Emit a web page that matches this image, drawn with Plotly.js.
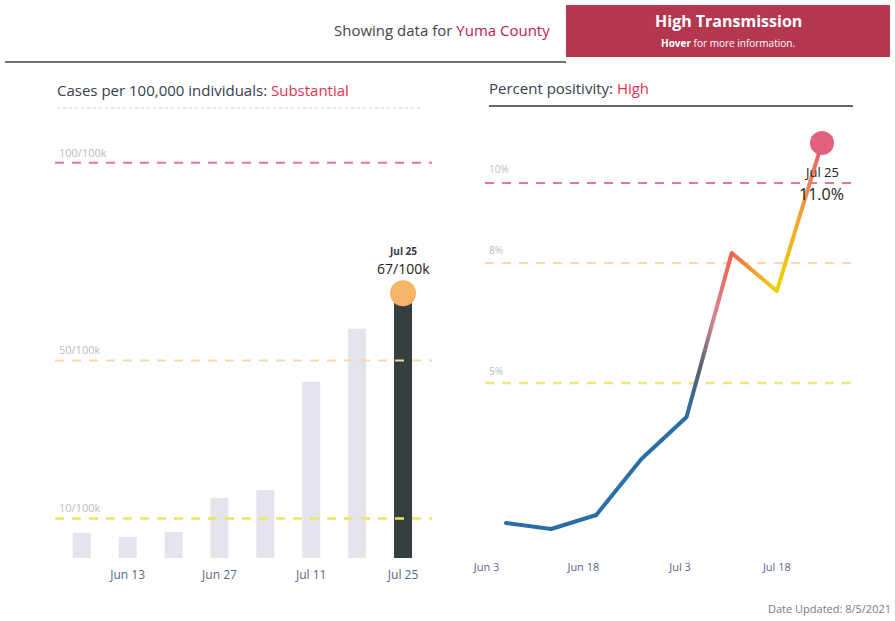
<!DOCTYPE html>
<html>
<head>
<meta charset="utf-8">
<script src="https://cdn.plot.ly/plotly-3.0.1.min.js"></script>
<style>
  html, body { margin: 0; padding: 0; background: #ffffff; }
  #chart { width: 895px; height: 621px; }
</style>
</head>
<body>
<div id="chart"></div>
<script>
// ---------- DATA ----------
const county = 'Yuma County';
const transmissionLevel = 'High Transmission';
const casesLevel = 'Substantial';
const positivityLevel = 'High';
const dateUpdated = '8/5/2021';

const weeks = ['2021-06-06', '2021-06-13', '2021-06-20', '2021-06-27',
               '2021-07-04', '2021-07-11', '2021-07-18', '2021-07-25'];
const casesPer100k = [6.3, 5.3, 6.6, 15.2, 17.2, 44.6, 58, 67];
const positivityPct = [1.5, 1.35, 1.7, 3.1, 4.15, 8.25, 7.3, 11.0];

const casesTickVals = ['2021-06-13', '2021-06-27', '2021-07-11', '2021-07-25'];
const casesTickText = ['Jun 13', 'Jun 27', 'Jul 11', 'Jul 25'];
const posTickVals = ['2021-06-03', '2021-06-18', '2021-07-03', '2021-07-18'];
const posTickText = ['Jun 3', 'Jun 18', 'Jul 3', 'Jul 18'];

const caseThresholds = [10, 50, 100];
const caseThresholdLabels = ['10/100k', '50/100k', '100/100k'];
const posThresholds = [5, 8, 10];
const posThresholdLabels = ['5%', '8%', '10%'];

// ---------- HELPERS ----------
const W = 895, H = 621;
const px = v => v / W;
const py = v => 1 - v / H;
const FONT = '"Open Sans", "Noto Sans", sans-serif';
const months = ['Jan','Feb','Mar','Apr','May','Jun','Jul','Aug','Sep','Oct','Nov','Dec'];
const fmtDate = s => { const p = s.split('-'); return months[+p[1] - 1] + ' ' + (+p[2]); };
const last = weeks.length - 1;

const caseLineColors = ['#ece55f', '#f7d9a6', '#e57792'];
const caseLineWidths = [2.5, 2, 2];
const posLineColors = ['#efe77a', '#f8d9ad', '#e57792'];

// ---------- TRACES ----------
const barColors = casesPer100k.map((v, i) => i === last ? '#363f3f' : '#e4e4ed');

const traces = [
  {
    type: 'bar', x: weeks, y: casesPer100k, xaxis: 'x', yaxis: 'y',
    marker: { color: barColors, line: { width: 0 } },
    width: 2.75 * 86400000, hoverinfo: 'skip'
  },
  {
    type: 'scatter', mode: 'markers', xaxis: 'x', yaxis: 'y',
    x: [weeks[last]], y: [casesPer100k[last]],
    marker: { size: 26, color: '#f6b466' }, cliponaxis: false, hoverinfo: 'skip'
  },
  {
    type: 'scatter', mode: 'lines', xaxis: 'x2', yaxis: 'y2',
    x: weeks, y: positivityPct,
    line: { color: '#2a6ea8', width: 4 }, hoverinfo: 'skip'
  },
  {
    type: 'scatter', mode: 'markers', xaxis: 'x2', yaxis: 'y2',
    x: [weeks[last]], y: [positivityPct[last]],
    marker: { size: 24, color: '#e2607f' }, cliponaxis: false, hoverinfo: 'skip'
  }
];

// ---------- SHAPES ----------
const shapes = [];
caseThresholds.forEach((t, i) => shapes.push({
  type: 'line', xref: 'x domain', yref: 'y', x0: 0, x1: 1, y0: t, y1: t,
  line: { color: caseLineColors[i], width: caseLineWidths[i], dash: '9px,8px' }, layer: 'above'
}));
posThresholds.forEach((t, i) => shapes.push({
  type: 'line', xref: 'x2 domain', yref: 'y2', x0: 0, x1: 1, y0: t, y1: t,
  line: { color: posLineColors[i], width: caseLineWidths[i], dash: '9px,8px' }, layer: 'below'
}));
// header rule and box
shapes.push({ type: 'line', xref: 'paper', yref: 'paper', x0: px(5), x1: px(566), y0: py(62), y1: py(62),
  line: { color: '#444444', width: 1.5 } });
shapes.push({ type: 'rect', xref: 'paper', yref: 'paper', x0: px(566), x1: px(890), y0: py(57), y1: py(5),
  fillcolor: '#b3374f', line: { width: 0 } });
// panel title rules
shapes.push({ type: 'line', xref: 'paper', yref: 'paper', x0: px(57), x1: px(420), y0: py(108), y1: py(108),
  line: { color: '#cfcfd4', width: 1, dash: 'dot' } });
shapes.push({ type: 'line', xref: 'paper', yref: 'paper', x0: px(489), x1: px(853), y0: py(106), y1: py(106),
  line: { color: '#333333', width: 1.5 } });

// ---------- ANNOTATIONS ----------
const ann = [];
caseThresholds.forEach((t, i) => ann.push({
  xref: 'x domain', yref: 'y', x: 0.005, y: t, xanchor: 'left', yanchor: 'bottom', yshift: 1,
  text: caseThresholdLabels[i], showarrow: false, font: { family: FONT, size: 11, color: '#b7bbc5' }
}));
const posShift = [3, 4, 5];
posThresholds.forEach((t, i) => ann.push({
  xref: 'x2 domain', yref: 'y2', x: 0.005, y: t, xanchor: 'left', yanchor: 'bottom', yshift: posShift[i],
  text: posThresholdLabels[i], showarrow: false, font: { family: FONT, size: 10, color: '#b7bbc5' }
}));
// value callouts
ann.push({ xref: 'x', yref: 'y', x: weeks[last], y: casesPer100k[last], yshift: 42, showarrow: false,
  text: '<b>' + fmtDate(weeks[last]) + '</b>', font: { family: FONT, size: 10, color: '#333a44' } });
ann.push({ xref: 'x', yref: 'y', x: weeks[last], y: casesPer100k[last], yshift: 25, showarrow: false,
  text: Math.round(casesPer100k[last]) + '/100k', font: { family: FONT, size: 14, color: '#222222' } });
ann.push({ xref: 'x2', yref: 'y2', x: weeks[last], y: positivityPct[last], yshift: -29, showarrow: false,
  text: fmtDate(weeks[last]), font: { family: FONT, size: 13, color: '#222222' } });
ann.push({ xref: 'x2', yref: 'y2', x: weeks[last], y: positivityPct[last], yshift: -51, showarrow: false,
  text: positivityPct[last].toFixed(1) + '%', font: { family: FONT, size: 16, color: '#222222' } });
// header
ann.push({ xref: 'paper', yref: 'paper', x: px(552), y: py(30), xanchor: 'right', yanchor: 'middle', showarrow: false,
  text: 'Showing data for <span style="color:#c0184f">' + county + '</span>',
  font: { family: FONT, size: 15, color: '#444444' } });
ann.push({ xref: 'paper', yref: 'paper', x: px(728), y: py(21), xanchor: 'center', yanchor: 'middle', showarrow: false,
  text: '<b>' + transmissionLevel + '</b>', font: { family: FONT, size: 16, color: '#ffffff' } });
ann.push({ xref: 'paper', yref: 'paper', x: px(728), y: py(43), xanchor: 'center', yanchor: 'middle', showarrow: false,
  text: '<b>Hover</b> for more information.', font: { family: FONT, size: 10, color: '#ffffff' } });
// panel titles
ann.push({ xref: 'paper', yref: 'paper', x: px(55), y: py(90), xanchor: 'left', yanchor: 'middle', showarrow: false,
  text: 'Cases per 100,000 individuals: <span style="color:#e2304f">' + casesLevel + '</span>',
  font: { family: FONT, size: 15, color: '#37404e' } });
ann.push({ xref: 'paper', yref: 'paper', x: px(487), y: py(88), xanchor: 'left', yanchor: 'middle', showarrow: false,
  text: 'Percent positivity: <span style="color:#e2304f">' + positivityLevel + '</span>',
  font: { family: FONT, size: 15, color: '#37404e' } });
// footer
ann.push({ xref: 'paper', yref: 'paper', x: px(893), y: py(608), xanchor: 'right', yanchor: 'middle', showarrow: false,
  text: 'Date Updated: ' + dateUpdated, font: { family: FONT, size: 11, color: '#7a7a7a' } });

// ---------- LAYOUT ----------
const tickFont = { family: FONT, size: 12, color: '#56668a' };
const layout = {
  width: W, height: H,
  margin: { l: 0, r: 0, t: 0, b: 0 },
  paper_bgcolor: '#ffffff', plot_bgcolor: 'rgba(0,0,0,0)',
  showlegend: false,
  xaxis: {
    domain: [px(55), px(432)], type: 'date',
    range: ['2021-06-01 22:00', '2021-07-29 10:00'],
    tickvals: casesTickVals, ticktext: casesTickText, ticks: '',
    ticklabelstandoff: 8,
    showgrid: false, zeroline: false, showline: false, tickfont: tickFont, anchor: 'y'
  },
  yaxis: {
    domain: [py(558), py(143)], range: [0, 105],
    showticklabels: false, showgrid: false, zeroline: false, showline: false, anchor: 'x'
  },
  xaxis2: {
    domain: [px(485), px(858)], type: 'date',
    range: ['2021-06-02 18:00', '2021-07-30 14:00'],
    tickvals: posTickVals, ticktext: posTickText, ticks: '',
    ticklabelstandoff: 8,
    showgrid: false, zeroline: false, showline: false,
    tickfont: { family: FONT, size: 11, color: '#56668a' }, anchor: 'y2'
  },
  yaxis2: {
    domain: [py(551), py(127)], range: [0.8, 11.4],
    showticklabels: false, showgrid: false, zeroline: false, showline: false, anchor: 'x2'
  },
  shapes: shapes,
  annotations: ann,
  hovermode: false
};

Plotly.newPlot('chart', traces, layout, { displayModeBar: false, staticPlot: true }).then(gd => {
  // colour the positivity line with a gradient along time (Tableau-like)
  const path = gd.querySelector('.subplot.x2y2 .scatterlayer path.js-line');
  const svg = gd.querySelector('svg.main-svg');
  if (!path || !svg) return;
  const NS = 'http://www.w3.org/2000/svg';
  let defs = svg.querySelector('defs');
  if (!defs) { defs = document.createElementNS(NS, 'defs'); svg.insertBefore(defs, svg.firstChild); }
  const t0 = Date.parse(weeks[0]), tN = Date.parse(weeks[last]);
  const frac = d => (Date.parse(d) - t0) / (tN - t0);
  const day = 86400000 / (tN - t0);
  const stops = [
    [0, '#2a6ea8'],
    [frac(weeks[4]), '#2a6ea8'],
    [frac(weeks[4]) + 2.2 * day, '#5c636c'],
    [frac(weeks[4]) + 4.2 * day, '#d98694'],
    [frac(weeks[5]), '#f2604a'],
    [frac(weeks[5]) + 3.5 * day, '#f2a233'],
    [frac(weeks[6]), '#e6d600'],
    [frac(weeks[6]) + 3.5 * day, '#f4a435'],
    [1, '#e35a78']
  ];
  const grad = document.createElementNS(NS, 'linearGradient');
  grad.setAttribute('id', 'posGrad');
  grad.setAttribute('x1', '0'); grad.setAttribute('x2', '1');
  grad.setAttribute('y1', '0'); grad.setAttribute('y2', '0');
  stops.forEach(([o, c]) => {
    const s = document.createElementNS(NS, 'stop');
    s.setAttribute('offset', Math.max(0, Math.min(1, o)));
    s.setAttribute('stop-color', c);
    grad.appendChild(s);
  });
  defs.appendChild(grad);
  path.style.stroke = 'url(#posGrad)';
  path.style.strokeLinejoin = 'round';
  path.style.strokeLinecap = 'round';
});
</script>
</body>
</html>
